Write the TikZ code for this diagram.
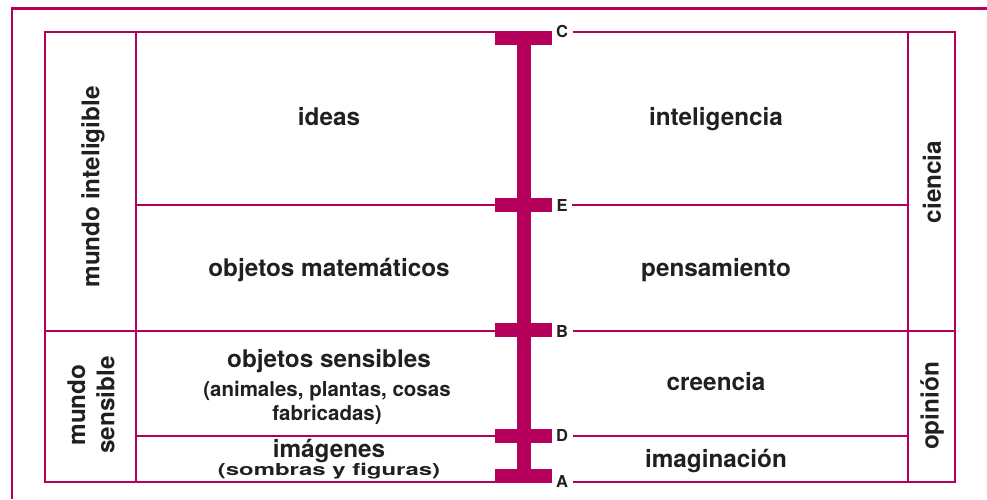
\documentclass[tikz,border=0pt]{standalone}
\usepackage{fontspec}
\setmainfont{TeX Gyre Heros}
\usepackage{graphicx}

\definecolor{platon}{HTML}{B4005A}
\definecolor{tinta}{HTML}{231F20}

\tikzset{
  linea/.style={draw=platon, line width=2pt},
  letra/.style={font=\bfseries\fontsize{16.5}{18}\selectfont, text=tinta, inner sep=4.5pt},
  texto/.style={font=\bfseries\fontsize{24.3}{26}\selectfont, text=tinta, inner sep=0pt, anchor=base},
  nota/.style={font=\bfseries\fontsize{20.5}{22}\selectfont, text=tinta, inner sep=0pt, anchor=base},
  lado/.style={font=\bfseries\fontsize{24.3}{29}\selectfont, text=tinta, rotate=90, align=center},
}

\begin{document}
\begin{tikzpicture}[x=1pt,y=-1pt]
  \useasboundingbox (0,0) rectangle (987,499);

  %% marco exterior (solo se ven dos lados)
  \draw [platon, line width=2.5pt] (12,499) -- (12,8.5) -- (987,8.5);

  %% letras de la linea dividida
  \node [letra] (C) at (562,31.5) {C};
  \node [letra] (E) at (562,205) {E};
  \node [letra] (B) at (562,331) {B};
  \node [letra] (D) at (562,435.5) {D};
  \node [letra] (A) at (562,481.5) {A};

  %% lineas horizontales, cortadas en cada letra
  \draw [linea] (45,31.5) -- (C.west) (C.east) -- (955,31.5);
  \draw [linea] (136,205) -- (E.west) (E.east) -- (908,205);
  \draw [linea] (45,331) -- (B.west) (B.east) -- (955,331);
  \draw [linea] (136,435.5) -- (D.west) (D.east) -- (908,435.5);
  \draw [linea] (45,481.5) -- (A.west) (A.east) -- (955,481.5);

  %% lineas verticales
  \foreach \x in {45,136,908,955}
    \draw [linea, line cap=rect] (\x,31.5) -- (\x,481.5);

  %% la linea de Platon
  \fill [platon] (517,31) rectangle (531,482);
  \fill [platon] (495,30.5) rectangle (552,44.5);
  \foreach \y in {205,330,435.5}
    \fill [platon] (495,\y-7) rectangle (552,\y+7);
  \fill [platon] (495,468.5) rectangle (552,482.5);

  %% contenidos
  \node [texto] (ideas) at (329,125) {ideas};
  \node [texto] (intel) at (716,125) {inteligencia};
  \node [texto] (mate) at (329,276) {objetos matemáticos};
  \node [texto] (pens) at (716,276) {pensamiento};
  \node [texto] (sens) at (329,367) {objetos sensibles};
  \node [nota] (sens2) at (327,396) {(animales, plantas, cosas};
  \node [nota] (sens3) at (327,420) {fabricadas)};
  \node [texto] (cree) at (716,390) {creencia};
  \node [texto] (imag) at (329,457) {imágenes};
  \node [nota, font=\bfseries\fontsize{16.5}{18}\selectfont] (imag2) at (329,475)
    {\scalebox{1.45}[1]{(sombras y figuras)}};
  \node [texto] (imagi) at (716,467) {imaginación};

  %% columnas laterales
  \node [lado] (inteligible) at (93,187) {mundo inteligible};
  \node [lado] (sensible) at (91,405) {mundo\\sensible};
  \node [lado] (ciencia) at (932,182) {ciencia};
  \node [lado] (opinion) at (932,406) {opinión};
\end{tikzpicture}
\end{document}
